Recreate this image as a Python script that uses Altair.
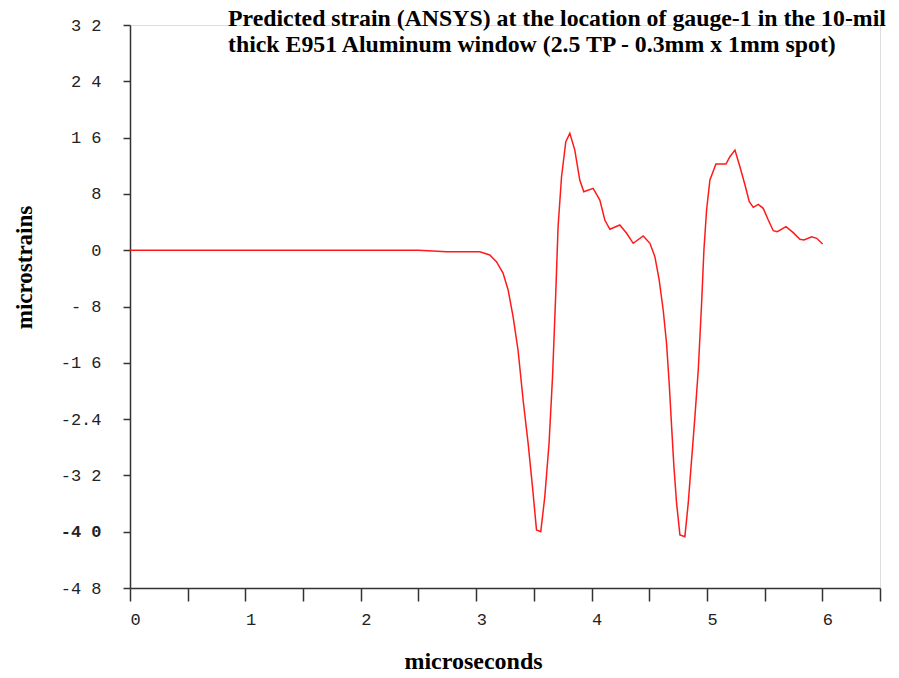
import altair as alt
import pandas as pd

# ---- data ----
time_us = [0.0, 1.0, 2.0, 2.5, 2.745, 3.031, 3.118, 3.176, 3.233, 3.277, 3.320, 3.363,
           3.407, 3.450, 3.488, 3.523, 3.560, 3.595, 3.632, 3.662, 3.690, 3.710, 3.740,
           3.777, 3.812, 3.855, 3.898, 3.933, 4.014, 4.072, 4.115, 4.159, 4.245, 4.304,
           4.361, 4.448, 4.506, 4.549, 4.586, 4.621, 4.650, 4.673, 4.694, 4.714, 4.737,
           4.766, 4.809, 4.838, 4.867, 4.896, 4.925, 4.954, 4.974, 4.997, 5.026, 5.078,
           5.165, 5.199, 5.243, 5.286, 5.330, 5.367, 5.402, 5.445, 5.488, 5.532, 5.575,
           5.610, 5.685, 5.748, 5.806, 5.841, 5.908, 5.951, 6.003]
strain = [0.0, 0.0, 0.0, 0.0, -0.21, -0.21, -0.68, -1.63, -3.24, -5.65, -9.45, -14.18,
          -21.28, -27.39, -33.59, -39.74, -39.99, -35.01, -27.39, -17.97, -6.08, 3.34, 10.44,
          15.41, 16.61, 14.23, 9.97, 8.31, 8.79, 7.13, 4.29, 2.97, 3.58, 2.40,
          0.98, 2.02, 0.98, -0.92, -4.23, -8.50, -13.22, -18.91, -25.07, -30.75, -35.95,
          -40.45, -40.70, -35.95, -29.80, -23.65, -17.02, -7.54, 0.03, 5.71, 9.97, 12.24,
          12.24, 13.28, 14.23, 11.86, 9.26, 6.89, 6.09, 6.52, 5.95, 4.29, 2.77,
          2.63, 3.34, 2.49, 1.55, 1.45, 1.92, 1.69, 0.88]

y_ticks = [32, 24, 16, 8, 0, -8, -16, -24, -32, -40, -48]
y_tick_labels = ["3 2", "2 4", "1 6", "8", "0", "- 8", "-1 6", "-2.4", "-3 2", "-4 0", "-4 8"]
x_ticks = [0, 0.5, 1, 1.5, 2, 2.5, 3, 3.5, 4, 4.5, 5, 5.5, 6, 6.5]
x_tick_labels = ["0", "", "1", "", "2", "", "3", "", "4", "", "5", "", "6", ""]

title_lines = ["Predicted strain (ANSYS) at the location of gauge-1 in the 10-mil",
               "thick E951 Aluminum window (2.5 TP - 0.3mm x 1mm spot)"]
x_title = "microseconds"
y_title = "microstrains"

df = pd.DataFrame({"t": time_us, "s": strain})


def label_expr(values, labels):
    expr = "''"
    for v, l in reversed(list(zip(values, labels))):
        expr = f"(abs(datum.value - ({v})) < 1e-6 ? '{l}' : {expr})"
    return expr


axis_common = dict(
    grid=False,
    domainColor="#333333",
    domainWidth=1.5,
    tickColor="#333333",
    tickWidth=1.5,
    labelColor="#222222",
    labelFont="Liberation Mono",
    labelFontSize=17,
    labelOverlap=False,
    labelFlush=False,
    titleFont="Liberation Serif",
    titleFontWeight="bold",
    titleColor="#000000",
    titleAlign="center",
)

x_axis = alt.Axis(
    values=x_ticks,
    labelExpr=label_expr(x_ticks, x_tick_labels),
    tickSize=13,
    labelPadding=10,
    labelAlign="left",
    title=x_title,
    titleFontSize=24,
    titleX=343,
    titleY=80,
    titleBaseline="alphabetic",
    **axis_common,
)

y_axis = alt.Axis(
    values=y_ticks,
    labelExpr=label_expr(y_ticks, y_tick_labels),
    tickSize=7,
    labelPadding=22,
    labelFontWeight={"condition": {"test": "datum.value == -40", "value": "bold"}, "value": "normal"},
    title=y_title,
    titleFontSize=23,
    titleX=-106,
    titleY=242,
    titleAngle=270,
    titleBaseline="middle",
    **axis_common,
)

chart = (
    alt.Chart(df)
    .mark_line(color="#ff1a1a", strokeWidth=1.5)
    .encode(
        x=alt.X("t:Q", scale=alt.Scale(domain=[0, 6.5], nice=False, zero=False), axis=x_axis),
        y=alt.Y("s:Q", scale=alt.Scale(domain=[-48, 32], nice=False, zero=False), axis=y_axis),
    )
    .properties(
        width=750,
        height=563,
        padding={"left": 122, "top": 17, "right": 11, "bottom": 88},
        autosize=alt.AutoSizeParams(type="none"),
        title=alt.TitleParams(
            text=title_lines,
            anchor="start",
            frame="group",
            dx=98,
            offset=-41,
            font="Liberation Serif",
            fontSize=23.8,
            fontWeight="bold",
            lineHeight=26,
            color="#000000",
        ),
    )
    .configure_view(stroke=None)
    .configure(background="white")
)

chart.save("out.html", embed_options={"renderer": "svg", "actions": False})
